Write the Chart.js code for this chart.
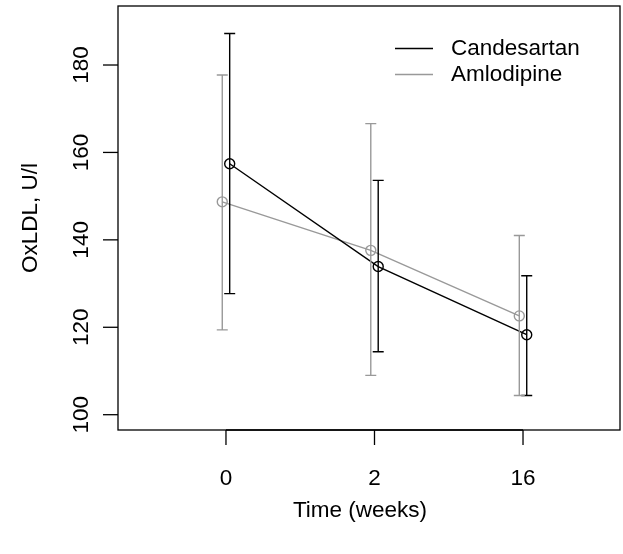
<!DOCTYPE html>
<html>
<head>
<meta charset="utf-8">
<script src="https://cdn.jsdelivr.net/npm/chart.js@4/dist/chart.umd.min.js"></script>
<style>
html,body{margin:0;padding:0;background:#fff;}
#wrap{width:623px;height:554px;position:relative;}
</style>
</head>
<body>
<div id="wrap"><canvas id="c" width="623" height="554"></canvas></div>
<script>
const categories = ['0', '2', '16'];
const yTicks = [100, 120, 140, 160, 180];
const seriesNames = ['Candesartan', 'Amlodipine'];
const candMean = [157.4, 133.9, 118.3];
const candLow  = [127.7, 114.4, 104.4];
const candHigh = [187.2, 153.6, 131.8];
const amloMean = [148.7, 137.6, 122.6];
const amloLow  = [119.4, 109.0, 104.4];
const amloHigh = [177.7, 166.6, 141.0];

const OFF = 0.025;
const BLACK = '#000000';
const GREY = '#999999';
const FONT = '22.5px "Liberation Sans", Arial, sans-serif';

function pts(means, off) {
  return means.map((v, i) => ({x: i + 1 + off, y: v}));
}

const series = [
  {name: seriesNames[0], mean: candMean, low: candLow, high: candHigh, off: OFF, color: BLACK},
  {name: seriesNames[1], mean: amloMean, low: amloLow, high: amloHigh, off: -OFF, color: GREY}
];

const decor = {
  id: 'decor',
  afterDatasetsDraw(chart) {
    const ctx = chart.ctx, xs = chart.scales.x, ys = chart.scales.y, a = chart.chartArea;
    ctx.save();
    // error bars
    series.forEach(s => {
      ctx.strokeStyle = s.color; ctx.lineWidth = 1.4;
      s.mean.forEach((m, i) => {
        const px = xs.getPixelForValue(i + 1 + s.off);
        const pl = ys.getPixelForValue(s.low[i]);
        const ph = ys.getPixelForValue(s.high[i]);
        ctx.beginPath();
        ctx.moveTo(px, pl); ctx.lineTo(px, ph);
        ctx.moveTo(px - 5.5, pl); ctx.lineTo(px + 5.5, pl);
        ctx.moveTo(px - 5.5, ph); ctx.lineTo(px + 5.5, ph);
        ctx.stroke();
      });
    });
    // box
    ctx.strokeStyle = '#000'; ctx.lineWidth = 1.3;
    ctx.strokeRect(a.left, a.top, a.right - a.left, a.bottom - a.top);
    // y axis ticks and labels
    ctx.fillStyle = '#000'; ctx.font = FONT;
    yTicks.forEach(t => {
      const py = ys.getPixelForValue(t);
      ctx.beginPath(); ctx.moveTo(a.left, py); ctx.lineTo(a.left - 15, py); ctx.stroke();
      ctx.save();
      ctx.translate(82, py); ctx.rotate(-Math.PI / 2);
      ctx.textAlign = 'center'; ctx.textBaseline = 'middle';
      ctx.fillText(String(t), 0, 0);
      ctx.restore();
    });
    // x axis
    const x1 = xs.getPixelForValue(1), x3 = xs.getPixelForValue(categories.length);
    ctx.beginPath(); ctx.moveTo(x1, a.bottom); ctx.lineTo(x3, a.bottom); ctx.stroke();
    ctx.textAlign = 'center'; ctx.textBaseline = 'middle';
    categories.forEach((c, i) => {
      const px = xs.getPixelForValue(i + 1);
      ctx.beginPath(); ctx.moveTo(px, a.bottom); ctx.lineTo(px, a.bottom + 15); ctx.stroke();
      ctx.fillText(c, px, 479);
    });
    // titles
    ctx.fillText('Time (weeks)', 360, 511);
    ctx.save();
    ctx.translate(31, 218); ctx.rotate(-Math.PI / 2);
    ctx.fillText('OxLDL, U/l', 0, 0);
    ctx.restore();
    // legend
    ctx.textAlign = 'left';
    series.forEach((s, i) => {
      const ly = 48.5 + i * 26;
      ctx.strokeStyle = s.color; ctx.lineWidth = 1.4;
      ctx.beginPath(); ctx.moveTo(395, ly); ctx.lineTo(433, ly); ctx.stroke();
      ctx.fillStyle = '#000';
      ctx.fillText(s.name, 451, ly);
    });
    ctx.restore();
  }
};

new Chart(document.getElementById('c'), {
  type: 'scatter',
  data: {
    datasets: series.map(s => ({
      label: s.name,
      data: pts(s.mean, s.off),
      showLine: true,
      borderColor: s.color,
      borderWidth: 1.4,
      pointRadius: 5,
      pointBorderWidth: 1.4,
      pointBackgroundColor: 'rgba(0,0,0,0)',
      pointBorderColor: s.color,
      fill: false
    }))
  },
  options: {
    responsive: false,
    animation: false,
    layout: {autoPadding: false, padding: {left: 118, right: 3, top: 6, bottom: 124}},
    plugins: {legend: {display: false}, tooltip: {enabled: false}},
    scales: {
      x: {type: 'linear', display: false, min: 0.273, max: 3.653},
      y: {type: 'linear', display: false, min: 96.5, max: 193.5}
    }
  },
  plugins: [decor]
});
</script>
</body>
</html>
